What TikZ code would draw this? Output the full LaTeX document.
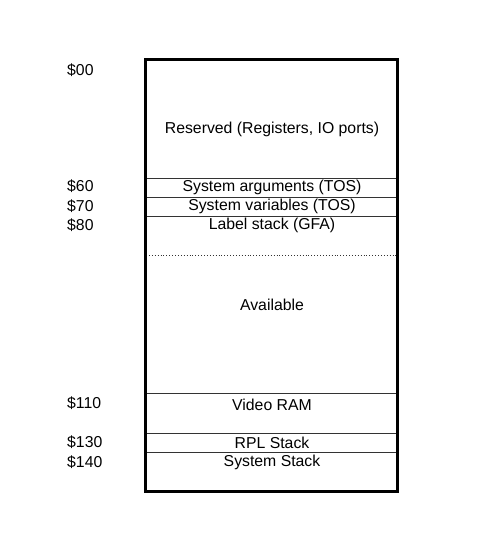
\documentclass[tikz,border=0pt]{standalone}
\usepackage{fontspec}
\setmainfont{Liberation Sans}
\begin{document}
\begin{tikzpicture}[x=1pt,y=-1pt,
  seg/.style={font=\fontsize{15.8}{18}\selectfont, anchor=center, inner sep=0pt},
  addr/.style={font=\fontsize{15.8}{18}\selectfont, anchor=west, inner sep=0pt},
  divider/.style={line width=0.9pt, draw=black!80},
  outer/.style={line width=3pt, draw=black}]
\useasboundingbox (0,0) rectangle (500,543);
\coordinate (tl) at (145.5,59.5);
\coordinate (br) at (397.5,491.5);
% dividers
\draw[divider] (146,178) -- (397,178);
\draw[divider] (146,197) -- (397,197);
\draw[divider] (146,216) -- (397,216);
\draw[line width=0.9pt, dotted, draw=black!80] (146,255) -- (397,255);
\draw[divider] (146,393) -- (397,393);
\draw[divider] (146,433) -- (397,433);
\draw[divider] (146,452) -- (397,452);
\draw[outer] (tl) rectangle (br);
% segment labels
\node[seg] (res) at (272,129) {Reserved (Registers, IO ports)};
\node[seg] (sarg) at (272,187.5) {System arguments (TOS)};
\node[seg] (svar) at (272,206.5) {System variables (TOS)};
\node[seg] (lab) at (272,225.5) {Label stack (GFA)};
\node[seg] (avail) at (272,305) {Available};
\node[seg] (vram) at (272,404.5) {Video RAM};
\node[seg] (rpl) at (272,442.5) {RPL Stack};
\node[seg] (sys) at (272,462.5) {System Stack};
% addresses
\node[addr] (a00) at (67,70.5) {\$00};
\node[addr] (a60) at (67,186.5) {\$60};
\node[addr] (a70) at (67,206.5) {\$70};
\node[addr] (a80) at (67,225.5) {\$80};
\node[addr] (a110) at (67,403.5) {\$110};
\node[addr] (a130) at (67,442.5) {\$130};
\node[addr] (a140) at (67,462.5) {\$140};
\end{tikzpicture}
\end{document}
